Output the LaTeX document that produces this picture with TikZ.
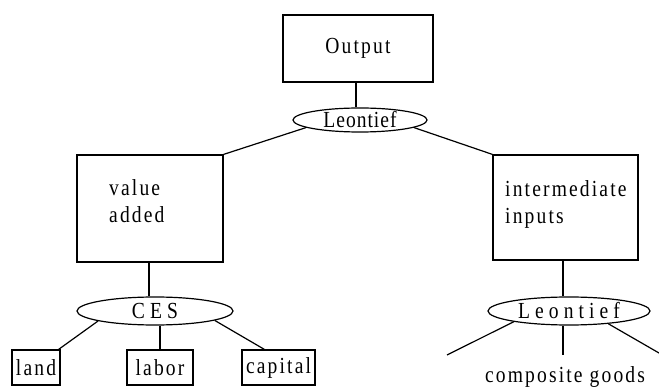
\documentclass[tikz,border=0pt]{standalone}
\usepackage{fontspec}
\usepackage{graphicx}
\setmainfont{Liberation Serif}
\newfontfamily\spA{Liberation Serif}[LetterSpace=11]
\newfontfamily\spB{Liberation Serif}[LetterSpace=26]
\newfontfamily\spC{Liberation Serif}[LetterSpace=5]
\newcommand\nx[1]{\scalebox{0.85}[1]{#1}}
\usetikzlibrary{shapes.geometric,calc}
\tikzset{
  box/.style={draw, line width=1.2pt, inner sep=0pt},
  oval/.style={draw, ellipse, line width=1.2pt, inner sep=0pt},
  conn/.style={line width=1.2pt},
  txt/.style={inner sep=0pt, font=\fontsize{23}{27}\spA},
}
\begin{document}
\begin{tikzpicture}[x=1pt,y=-1pt]
\useasboundingbox (0,0) rectangle (659,387);
% boxes
\node[box, minimum width=150pt, minimum height=67pt, font=\fontsize{23}{27}\spA] (out) at (358,48.5) {\nx{Output}};
\node[box, minimum width=146pt, minimum height=107pt] (va) at (150,208.5) {};
\node[txt, anchor=west] (vat) at (109,204) {\nx{\begin{tabular}{@{}l@{}}value\\added\end{tabular}}};
\node[box, minimum width=145pt, minimum height=105pt] (ii) at (565.5,207.5) {};
\node[txt, anchor=west] (iit) at (505,205) {\nx{\begin{tabular}{@{}l@{}}intermediate\\inputs\end{tabular}}};
\node[box, minimum width=48pt, minimum height=35pt, font=\fontsize{23}{27}\spA] (land) at (36,367.5) {\nx{land}};
\node[box, minimum width=66pt, minimum height=35pt, font=\fontsize{23}{27}\spA] (labor) at (160,367.5) {\nx{labor}};
\node[box, minimum width=73pt, minimum height=35pt, font=\fontsize{23}{27}\spA] (cap) at (278.5,367.5) {\nx{capital}};
% ellipses
\node[oval, minimum width=134pt, minimum height=24pt, font=\fontsize{23}{27}\spC] (topL) at (360,120) {\nx{Leontief}};
\node[oval, minimum width=156pt, minimum height=28pt, font=\fontsize{23}{27}\spB] (ces) at (155,311) {\nx{CES}};
\node[oval, minimum width=162pt, minimum height=28pt, font=\fontsize{23}{27}\spB] (botL) at (569,311) {\nx{Leontief}};
% label
\node[txt] (cg) at (565,377) {\nx{composite goods}};
% free ends
\coordinate (e1) at (447,355);
\coordinate (e2) at (563,355);
\coordinate (e3) at (659,353);
% connectors
\draw[conn] (out.south -| 356,0) -- (topL.north -| 356,0);
\draw[conn] (topL.188) -- (va.north east);
\draw[conn] (topL.-8) -- (ii.north west);
\draw[conn] (va.south -| 149,0) -- (ces.north -| 149,0);
\draw[conn] (ces.190) -- ($(land.north east)+(-2,0)$);
\draw[conn] (ces.south -| labor.north) -- (labor.north);
\draw[conn] (ces.-9) -- ($(cap.north west)+(23,0)$);
\draw[conn] (ii.south -| 563,0) -- (botL.north -| 563,0);
\draw[conn] (botL.191) -- (e1);
\draw[conn] (botL.south -| e2) -- (e2);
\draw[conn] (botL.-18) -- (e3);
\end{tikzpicture}
\end{document}
